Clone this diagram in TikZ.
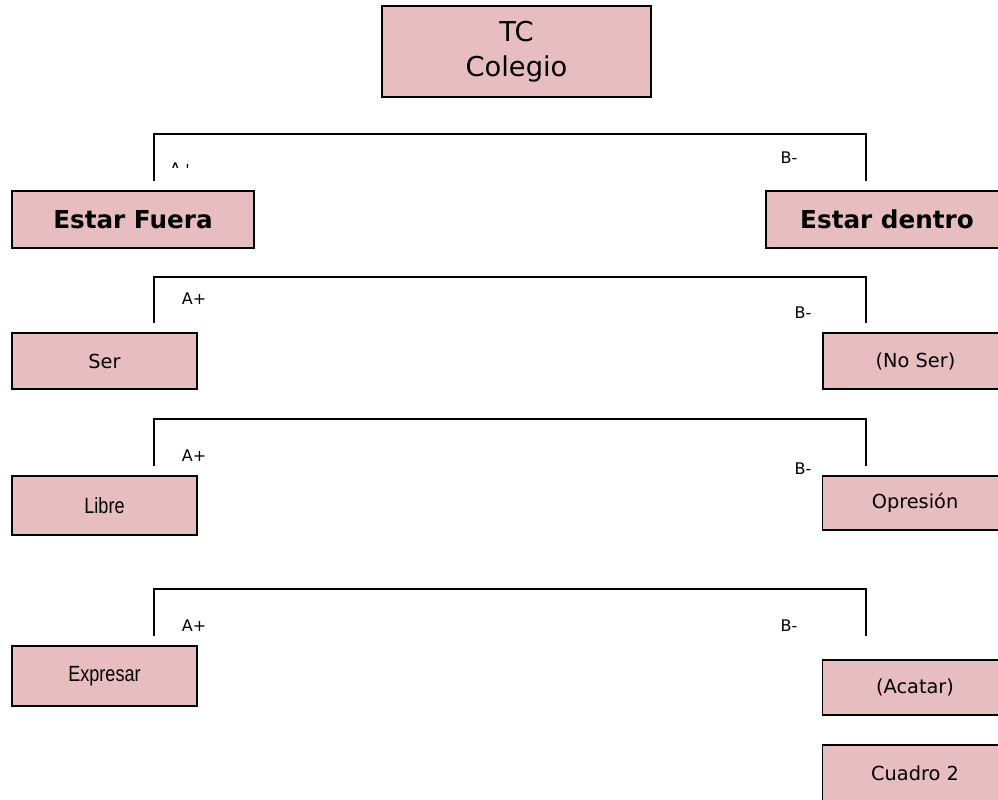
\documentclass[tikz,border=0pt]{standalone}
\usepackage{fontspec}
\setmainfont{DejaVu Sans}
\newfontfamily\narrowfont[FakeStretch=0.82]{Liberation Sans}
\definecolor{rose}{RGB}{231, 189, 192}
\newlength{\pxu}
\setlength{\pxu}{0.75pt}

\begin{document}
\begin{tikzpicture}[x=\pxu, y=-\pxu, line width=1.2pt,
  box/.style={draw, line width=1.4pt, fill=rose, inner sep=0pt},
  wide/.style={box, minimum width=242\pxu, minimum height=57\pxu,
    font=\fontsize{18.5}{22}\bfseries},
  small/.style={box, minimum width=185\pxu, font=\fontsize{14.5}{17}\selectfont},
  narrow/.style={font=\narrowfont\fontsize{16.5}{19}\selectfont},
  tag/.style={inner sep=0pt, font=\fontsize{12}{14}\selectfont}]

  \useasboundingbox (0, 0) rectangle (998, 799);

  \node[box, minimum width=269\pxu, minimum height=91\pxu, align=center,
    font=\fontsize{20.5}{26}\selectfont] (tc) at (516.5, 51.5) {TC\\Colegio};

  \node[wide] (fuera) at (133, 219.5) {Estar Fuera};
  \node[wide] (dentro) at (887, 219.5) {Estar dentro};

  \node[small, minimum height=56\pxu] (ser) at (104.5, 361) {Ser};
  \node[small, minimum height=56\pxu] (noser) at (915.5, 361) {(No Ser)};
  \node[small, narrow, minimum height=59\pxu] (libre) at (104.5, 505.5) {Libre};
  \node[small, minimum height=54\pxu] (opresion) at (915, 503) {Opresión};
  \node[small, narrow, minimum height=60\pxu] (expresar) at (104.5, 676) {Expresar};
  \node[small, minimum height=55\pxu] (acatar) at (915, 687.5) {(Acatar)};
  \node[small, minimum height=57\pxu] (cuadro) at (915, 773.5) {Cuadro 2};

  \coordinate (fueraL) at (154, 181);
  \coordinate (fueraT) at (154, 134);
  \coordinate (dentroR) at (866, 181);
  \draw (fueraL) -- (fueraT) -| (dentroR);

  \coordinate (serL) at (154, 323);
  \coordinate (serT) at (154, 277);
  \coordinate (noserR) at (866, 323);
  \draw (serL) -- (serT) -| (noserR);

  \coordinate (libreL) at (154, 466);
  \coordinate (libreT) at (154, 419);
  \coordinate (opresionR) at (866, 466);
  \draw (libreL) -- (libreT) -| (opresionR);

  \coordinate (expresarL) at (154, 636);
  \coordinate (expresarT) at (154, 589);
  \coordinate (acatarR) at (866, 636);
  \draw (expresarL) -- (expresarT) -| (acatarR);

  \begin{scope}
    \clip (160, 150) rectangle (260, 167.5);
    \node[tag] (aplus1) at (182, 169) {A+};
  \end{scope}
  \node[tag] (aplus2) at (194, 299) {A+};
  \node[tag] (aplus3) at (194, 456) {A+};
  \node[tag] (aplus4) at (194, 626) {A+};

  \node[tag] (bminus1) at (789, 158) {B-};
  \node[tag] (bminus2) at (803, 313) {B-};
  \node[tag] (bminus3) at (803, 469) {B-};
  \node[tag] (bminus4) at (789, 626) {B-};

\end{tikzpicture}
\end{document}
